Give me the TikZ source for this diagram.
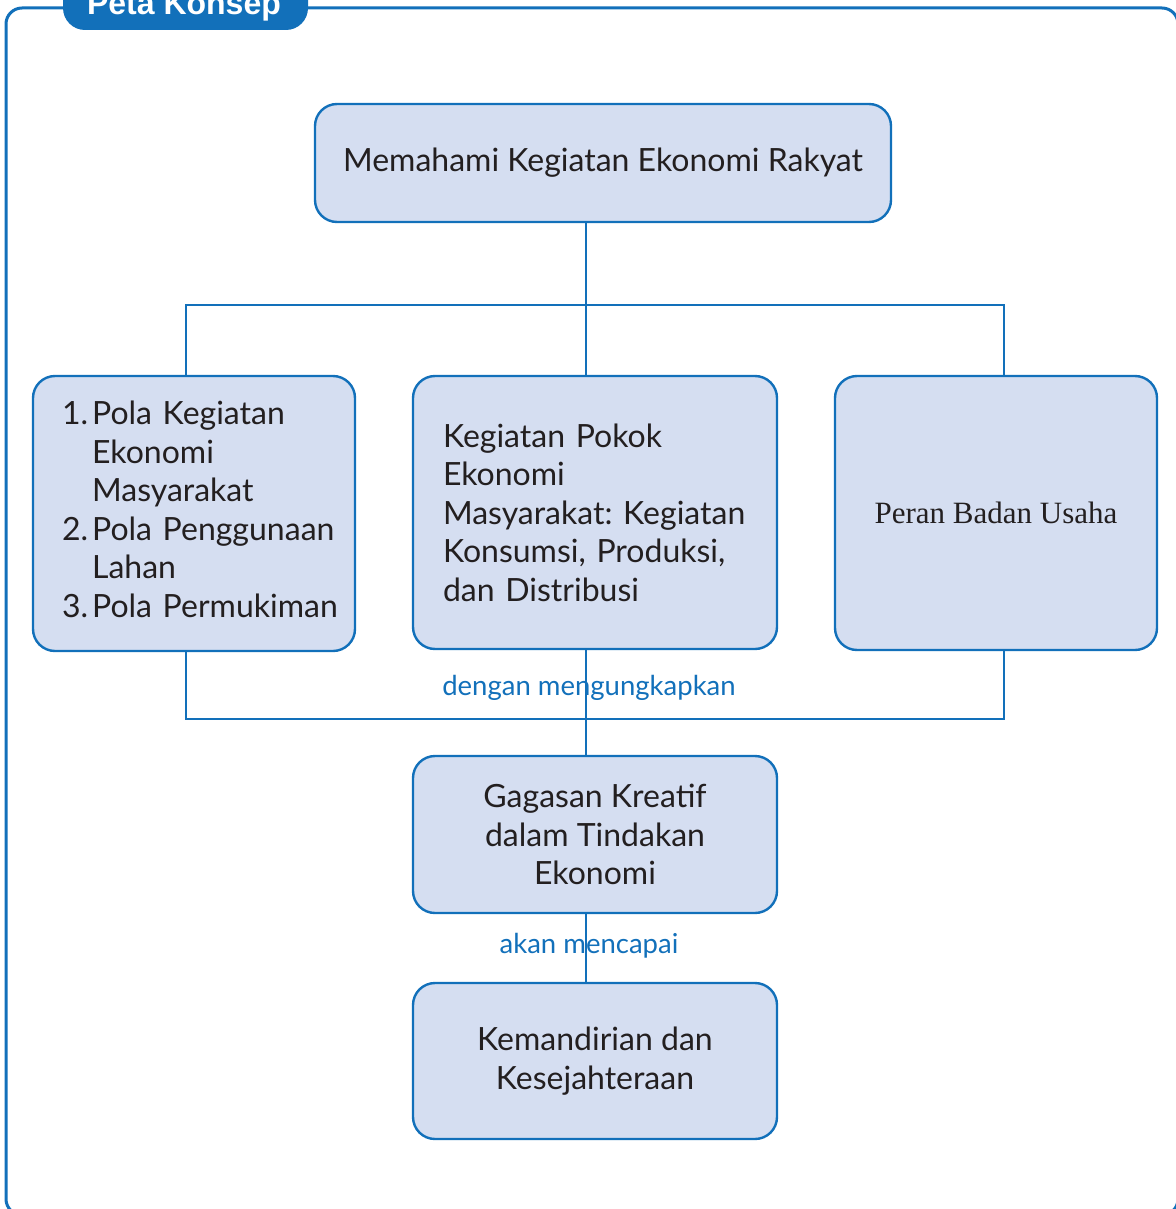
\documentclass[tikz,border=0pt]{standalone}
\usepackage{fontspec}
\setmainfont{Lato}
\newfontfamily\serifface{Liberation Serif}
\newfontfamily\headface{Liberation Sans}
\usetikzlibrary{positioning,calc}
\definecolor{mapblue}{RGB}{18,112,186}
\definecolor{boxfill}{RGB}{213,222,241}
\definecolor{inkgray}{RGB}{35,31,32}
\frenchspacing

\begin{document}
\begin{tikzpicture}[x=1pt, y=-1pt,
    concept/.style={draw=mapblue, line width=2.4pt, fill=boxfill, rounded corners=22pt,
      text=inkgray, font=\fontsize{32}{38.5}\selectfont, inner sep=0pt},
    link/.style={draw=mapblue, line width=2.4pt},
    verb/.style={text=mapblue, font=\fontsize{27.5}{30}\selectfont, inner sep=0pt}]
    \useasboundingbox (0,0) rectangle (1175,1209);

    \draw[mapblue, line width=3pt, rounded corners=16pt] (6,8) rectangle (1178,1215);
    \fill[mapblue, rounded corners=22pt] (63,-40) rectangle (308,30);
    \node[text=white, font=\headface\bfseries\fontsize{32}{32}\selectfont, anchor=base] (title) at (184,15) {Peta Konsep};

    \node[concept, minimum width=576pt, minimum height=118pt] (top) at (603,163) {Memahami Kegiatan Ekonomi Rakyat};
    \node[concept, minimum width=322pt, minimum height=275pt, text width=264pt, align=left] (left) at (194,513.5)
        {\begin{tabular}{@{}l@{\hspace{4pt}}l@{}}1. & Pola Kegiatan\\ & Ekonomi\\ & Masyarakat\\2. & Pola Penggunaan\\ & Lahan\\3. & Pola Permukiman\end{tabular}};
    \node[concept, minimum width=364pt, minimum height=273pt, text width=304pt, align=left] (mid) at (595,512.5)
        {Kegiatan Pokok\\Ekonomi\\Masyarakat: Kegiatan\\Konsumsi, Produksi,\\dan Distribusi};
    \node[concept, minimum width=322pt, minimum height=274pt, font=\serifface\fontsize{31}{36}\selectfont] (right) at (996,513) {Peran Badan Usaha};
    \node[concept, minimum width=364pt, minimum height=157pt, align=center] (gagasan) at (595,834.5)
        {Gagasan Kreatif\\dalam Tindakan\\Ekonomi};
    \node[concept, minimum width=364pt, minimum height=156pt, align=center] (mandiri) at (595,1061)
        {Kemandirian dan\\Kesejahteraan};

    \node[verb] (ungkap) at (589,688) {dengan mengungkapkan};
    \node[verb] (capai) at (589,946) {akan mencapai};

    \coordinate (spine) at (586,0);
    \coordinate (lx) at (186,0);
    \coordinate (rx) at (1004,0);
    \coordinate (topbar) at (0,305);
    \coordinate (lowbar) at (0,719);

    \draw[link] (top.south -| spine) -- (mid.north -| spine);
    \draw[link] (left.north -| lx) -- (lx |- topbar) -- (rx |- topbar) -- (right.north -| rx);
    \draw[link] (left.south -| lx) -- (lx |- lowbar) -- (rx |- lowbar) -- (right.south -| rx);
    \draw[link] (mid.south -| spine) -- (gagasan.north -| spine);
    \draw[link] (gagasan.south -| spine) -- (mandiri.north -| spine);
\end{tikzpicture}
\end{document}
